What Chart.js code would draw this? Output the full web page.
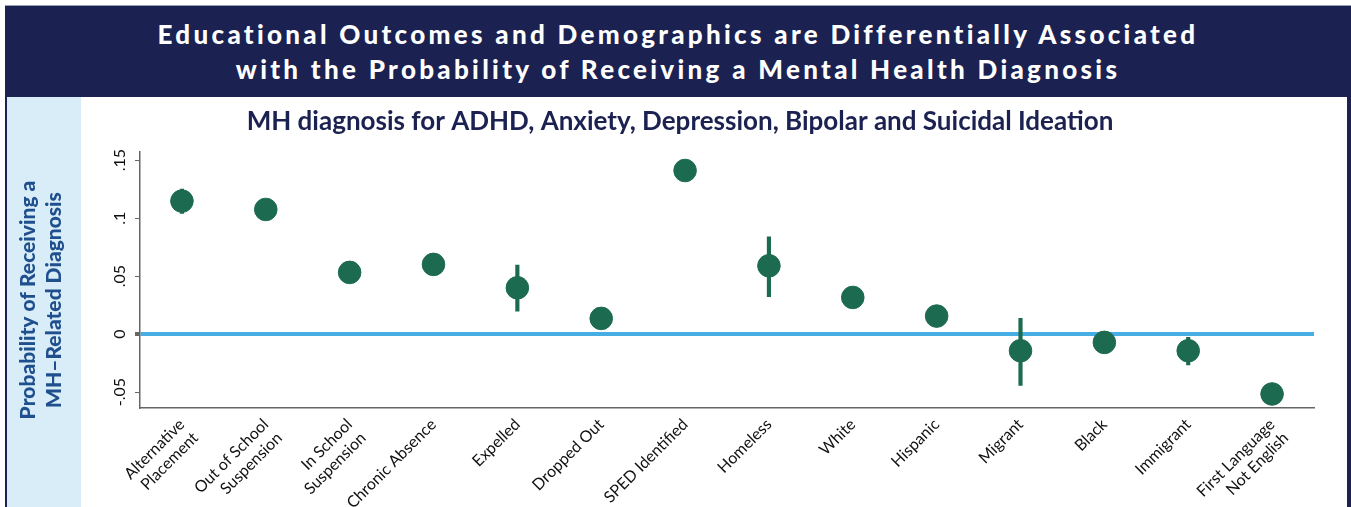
<!DOCTYPE html>
<html>
<head>
<meta charset="utf-8">
<script src="https://cdn.jsdelivr.net/npm/chart.js@4"></script>
<style>
  body { margin: 0; background: #fff; width: 1351px; height: 507px; overflow: hidden; position: relative; }
  #frame { position: absolute; left: 5px; top: 5px; width: 1346px; height: 502px; background: #1b2150; border-top: 1px solid #9a9fb3; box-sizing: border-box; }
  #header { position: absolute; left: 5px; top: 6px; width: 1346px; height: 91px; color: #fff; text-align: center;
    font-family: Lato, sans-serif; font-weight: 900; font-size: 26px; letter-spacing: 3.3px; line-height: 35px; padding-top: 11px; box-sizing: border-box; }
  #inner { position: absolute; left: 7px; top: 97px; width: 1340px; height: 410px; background: #fff; }
  #panel { position: absolute; left: 7px; top: 97px; width: 74px; height: 410px; background: #d9edf8; }
  #wrap { position: absolute; left: 7px; top: 97px; width: 1339px; height: 410px; }
</style>
</head>
<body>
<div id="frame"></div>
<div id="header">Educational Outcomes and Demographics are Differentially Associated<br>with the Probability of Receiving a Mental Health Diagnosis</div>
<div id="inner"></div>
<div id="panel"></div>
<div id="wrap"><canvas id="chart"></canvas></div>
<script>
// categorias del eje x
const categorias = [['Alternative', 'Placement'], ['Out of School', 'Suspension'], ['In School', 'Suspension'], 'Chronic Absence', 'Expelled', 'Dropped Out', 'SPED Identified', 'Homeless', 'White', 'Hispanic', 'Migrant', 'Black', 'Immigrant', ['First Language', 'Not English']];
// estimaciones y intervalos de confianza
const estimacion = [0.1147, 0.1075, 0.0532, 0.0601, 0.0399, 0.0135, 0.1411, 0.0589, 0.0316, 0.0155, -0.0144, -0.0072, -0.0144, -0.0517];
const ciBajo = [0.104, 0.103, 0.049, 0.056, 0.0198, 0.009, 0.137, 0.0322, 0.027, 0.011, -0.0443, -0.011, -0.0267, -0.056];
const ciAlto = [0.125, 0.112, 0.057, 0.064, 0.0595, 0.018, 0.145, 0.0839, 0.036, 0.020, 0.0135, -0.003, -0.0029, -0.047];
// ticks del eje y
const yTicks = [-0.05, 0, 0.05, 0.1, 0.15];
const yTickLabels = ['-.05', '0', '.05', '.1', '.15'];

const verde = '#1c6b50';
const azulCero = '#46aee2';
//espacios al final para bajar el titulo del eje y
const relleno = '\u00a0'.repeat(8);

const data = {
    labels: categorias,
    datasets: [{
        type: 'scatter',
        data: estimacion.map((v, i) => ({ x: i, y: v })),
        backgroundColor: verde,
        borderColor: verde,
        pointRadius: 11.3,
        pointHoverRadius: 11.3,
        order: 0
    }, {
        type: 'bar',
        data: ciBajo.map((v, i) => [v, ciAlto[i]]),
        backgroundColor: verde,
        barThickness: 3.5,
        borderSkipped: false,
        order: 1
    }]
};

const config = {
    type: 'bar',
    data,
    options: {
        animation: false,
        responsive: true,
        maintainAspectRatio: false,
        // padding izquierdo para centrar el titulo sobre el area del grafico
        layout: { padding: { left: 39, right: 32, top: 0, bottom: 0 } },
        plugins: {
            legend: { display: false },
            tooltip: { enabled: false },
            title: {
                display: true,
                text: 'MH diagnosis for ADHD, Anxiety, Depression, Bipolar and Suicidal Ideation',
                color: '#1b2150',
                font: { family: 'Lato', size: 26, weight: 'bold' },
                padding: { top: 9, bottom: 15 }
            }
        },
        scales: {
            x: {
                type: 'category',
                offset: true,
                grid: { display: false, drawTicks: true, tickLength: 5, color: '#666' },
                border: { display: true, color: '#666', width: 1.5 },
                ticks: {
                    color: '#111',
                    font: { family: 'Lato', size: 16 },
                    minRotation: 45,
                    maxRotation: 45,
                    padding: 2,
                    autoSkip: false
                },
                afterFit(scale) { scale.height = 99; }
            },
            y: {
                min: -0.0638,
                max: 0.1569,
                afterBuildTicks(scale) { scale.ticks = yTicks.map(v => ({ value: v })); },
                grid: {
                    drawTicks: true,
                    tickLength: 5,
                    color: ctx => (ctx.tick && ctx.tick.value === 0) ? azulCero : 'rgba(0,0,0,0)',
                    lineWidth: ctx => (ctx.tick && ctx.tick.value === 0) ? 4 : 1,
                    tickColor: '#666'
                },
                border: { display: true, color: '#666', width: 1.5 },
                ticks: {
                    color: '#111',
                    font: { family: 'Lato', size: 16 },
                    minRotation: 90,
                    maxRotation: 90,
                    crossAlign: 'center',
                    padding: 1,
                    callback: (v) => yTickLabels[yTicks.indexOf(v)]
                },
                title: {
                    display: true,
                    text: ['Probability of Receiving a' + relleno, 'MH\u2013Related Diagnosis' + relleno],
                    color: '#1f4f8d',
                    font: { family: 'Lato', size: 21, weight: '900', lineHeight: 1.24 },
                    padding: { top: -31, bottom: 0 }
                },
                afterFit(scale) { scale.width = 94; }
            }
        }
    }
};
const myChart = new Chart(document.getElementById('chart'), config);
</script>
</body>
</html>
